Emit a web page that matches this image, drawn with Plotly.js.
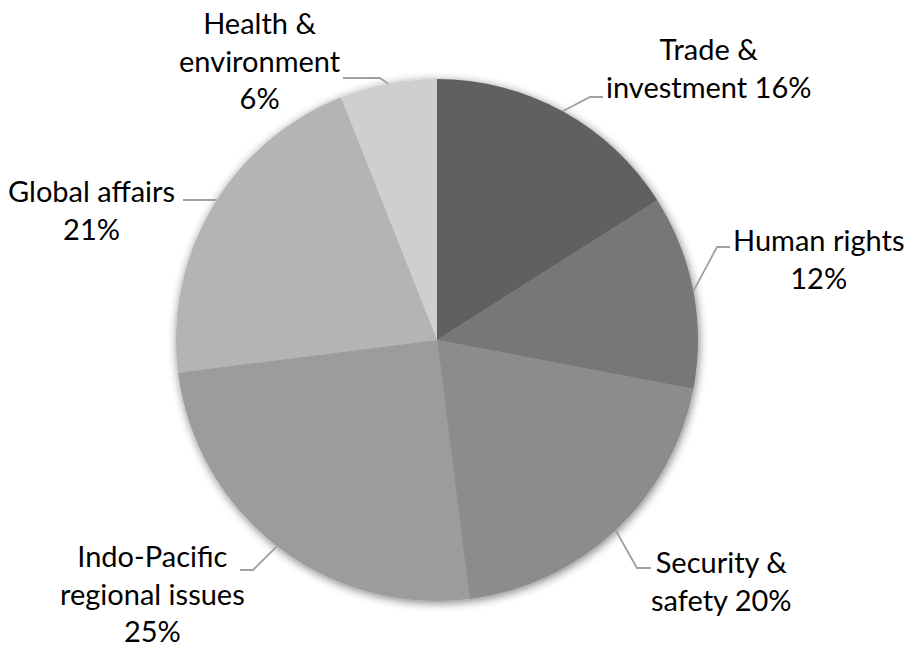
<!DOCTYPE html>
<html>
<head>
<meta charset="utf-8">
<script src="https://cdn.plot.ly/plotly-3.0.1.min.js"></script>
<style>html,body{margin:0;padding:0;background:#fff;}#chart{width:908px;height:651px;}</style>
</head>
<body>
<div id="chart"></div>
<script>
// ---- data ----
const categories = ["Trade &<br>investment", "Human rights", "Security &<br>safety", "Indo-Pacific<br>regional issues", "Global affairs", "Health &<br>environment"];
const values = [16, 12, 20, 25, 21, 6];
const colors = ["#616161", "#777777", "#8c8c8c", "#9c9c9c", "#b4b4b4", "#cfcfcf"];
const pctSeparator = [" ", "<br>", " ", "<br>", "<br>", "<br>"];

// ---- layout config (pixels) ----
const W = 908, H = 651;
const cx = 437, cy = 340, R = 261;
const labelPos = [[709, 68], [818, 258], [721, 580], [152, 593], [91, 209], [260, 60]];
const elbows = [[590, 97], [717, 247], [637, 568], [253, 570], [183, 200], [380, 78]];
const lineEnds = [[603, 97], [730, 247], [651, 568], [240, 570], [183, 200], [343, 78]];
const anchorMode = ["mid", "mid", "mid", "mid", "horizontal", "mid"];

const total = values.reduce((a, b) => a + b, 0);
const px = x => x / W, py = y => 1 - y / H;

const annotations = [], shapes = [];
let cum = 0;
values.forEach((v, i) => {
  const a0 = cum / total * 360, a1 = (cum + v) / total * 360;
  cum += v;
  const pct = Math.round(v / total * 100);
  annotations.push({
    xref: "paper", yref: "paper", x: px(labelPos[i][0]), y: py(labelPos[i][1]),
    xanchor: "center", yanchor: "middle", align: "center", showarrow: false,
    text: categories[i] + pctSeparator[i] + pct + "%",
    font: {family: "Lato, 'Open Sans', sans-serif", size: 29, color: "#000000"}
  });
  let ax, ay;
  if (anchorMode[i] === "horizontal") {
    const ey = elbows[i][1];
    const dy = ey - cy;
    const dx = Math.sqrt(R * R - dy * dy);
    const mid = (a0 + a1) / 2;
    ax = cx + (mid > 180 ? -dx : dx); ay = ey;
  } else {
    const mid = (a0 + a1) / 2 * Math.PI / 180;
    ax = cx + R * Math.sin(mid); ay = cy - R * Math.cos(mid);
  }
  const e = elbows[i], l = lineEnds[i];
  shapes.push({
    type: "path", xref: "paper", yref: "paper",
    path: `M ${px(ax)} ${py(ay)} L ${px(e[0])} ${py(e[1])} L ${px(l[0])} ${py(l[1])}`,
    line: {color: "#a0a0a0", width: 1.8}
  });
});

const trace = {
  type: "pie", labels: categories, values: values, sort: false,
  direction: "clockwise", rotation: 0,
  marker: {colors: colors, line: {width: 0}},
  textinfo: "none", hoverinfo: "label+percent",
  domain: {x: [px(cx - R), px(cx + R)], y: [py(cy + R), py(cy - R)]},
  showlegend: false
};

const layout = {
  width: W, height: H, margin: {l: 0, r: 0, t: 0, b: 0},
  paper_bgcolor: "#ffffff", plot_bgcolor: "#ffffff",
  showlegend: false, annotations: annotations, shapes: shapes
};

Plotly.newPlot("chart", [trace], layout, {displayModeBar: false, staticPlot: true}).then(() => {
  const svg = document.querySelector("#chart svg.main-svg");
  const ns = "http://www.w3.org/2000/svg";
  let defs = svg.querySelector("defs");
  if (!defs) { defs = document.createElementNS(ns, "defs"); svg.insertBefore(defs, svg.firstChild); }
  const f = document.createElementNS(ns, "filter");
  f.setAttribute("id", "pieShadow");
  f.setAttribute("x", "-20%"); f.setAttribute("y", "-20%");
  f.setAttribute("width", "140%"); f.setAttribute("height", "140%");
  f.innerHTML = '<feGaussianBlur in="SourceAlpha" stdDeviation="5"/>' +
    '<feOffset dx="1" dy="2" result="b"/>' +
    '<feComponentTransfer><feFuncA type="linear" slope="0.5"/></feComponentTransfer>' +
    '<feMerge><feMergeNode/><feMergeNode in="SourceGraphic"/></feMerge>';
  defs.appendChild(f);
  const g = svg.querySelector("g.pielayer g.trace");
  if (g) g.setAttribute("filter", "url(#pieShadow)");
  // slightly heavier text to match the reference rendering
  svg.querySelectorAll("g.annotation text").forEach(t => {
    t.setAttribute("stroke", "#000"); t.setAttribute("stroke-width", "0.5");
  });
});
</script>
</body>
</html>
